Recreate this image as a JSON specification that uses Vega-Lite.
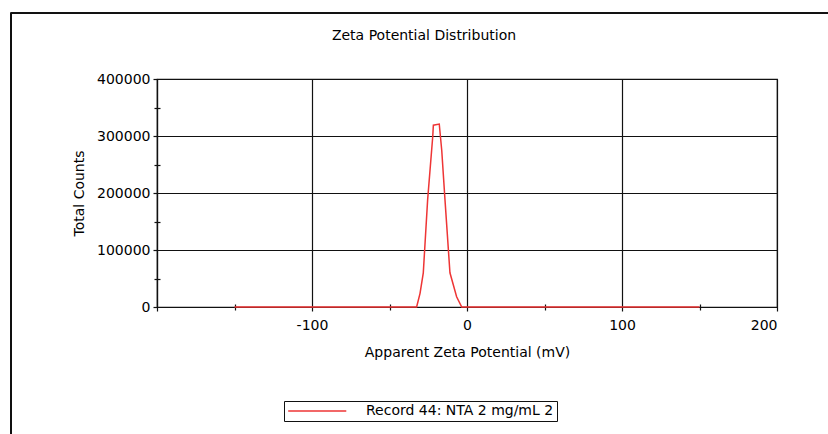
{
  "$schema": "https://vega.github.io/schema/vega-lite/v6.json",
  "width": 620,
  "height": 228,
  "autosize": {"type": "none"},
  "padding": {"left": 157, "top": 79, "right": 51, "bottom": 127},
  "background": "white",
  "config": {
    "view": {"stroke": "#111", "strokeWidth": 1.2},
    "font": "DejaVu Sans",
    "axis": {"labelFont": "DejaVu Sans", "titleFont": "DejaVu Sans", "labelFontSize": 14, "titleFontSize": 14, "labelColor": "#000", "titleColor": "#000", "titleFontWeight": "normal", "domainColor": "#111", "tickColor": "#111", "gridColor": "#111", "gridOpacity": 1, "domainWidth": 1.2, "tickWidth": 1.2, "gridWidth": 1.2}
  },
  "title": {"text": "Zeta Potential Distribution", "font": "DejaVu Sans", "fontSize": 14, "fontWeight": "normal", "color": "#000", "anchor": "middle", "frame": "group", "dx": -43, "offset": -30},
  "data": {"values": [
    {"mV": -150, "counts": 0, "series": "Record 44: NTA 2 mg/mL 2"},
    {"mV": -32.5, "counts": 0, "series": "Record 44: NTA 2 mg/mL 2"},
    {"mV": -30.3, "counts": 24000, "series": "Record 44: NTA 2 mg/mL 2"},
    {"mV": -28.2, "counts": 60000, "series": "Record 44: NTA 2 mg/mL 2"},
    {"mV": -25.4, "counts": 188000, "series": "Record 44: NTA 2 mg/mL 2"},
    {"mV": -22.1, "counts": 299000, "series": "Record 44: NTA 2 mg/mL 2"},
    {"mV": -21.7, "counts": 319000, "series": "Record 44: NTA 2 mg/mL 2"},
    {"mV": -17.9, "counts": 321000, "series": "Record 44: NTA 2 mg/mL 2"},
    {"mV": -16.3, "counts": 275000, "series": "Record 44: NTA 2 mg/mL 2"},
    {"mV": -14.2, "counts": 188000, "series": "Record 44: NTA 2 mg/mL 2"},
    {"mV": -11, "counts": 60000, "series": "Record 44: NTA 2 mg/mL 2"},
    {"mV": -6.7, "counts": 18000, "series": "Record 44: NTA 2 mg/mL 2"},
    {"mV": -3.4, "counts": 0, "series": "Record 44: NTA 2 mg/mL 2"},
    {"mV": 150, "counts": 0, "series": "Record 44: NTA 2 mg/mL 2"}
  ]},
  "layer": [
    {
      "mark": {"type": "line", "strokeOpacity": 0},
      "encoding": {
        "x": {"field": "mV", "type": "quantitative", "scale": {"domain": [-200, 200], "nice": false, "zero": false},
              "axis": {"orient": "bottom", "values": [-150, -50, 50, 150], "labels": false, "grid": false, "domain": false, "tickSize": 3, "title": null}},
        "y": {"field": "counts", "type": "quantitative", "scale": {"domain": [0, 400000], "nice": false},
              "axis": {"orient": "left", "values": [50000, 150000, 250000, 350000], "labels": false, "grid": false, "domain": false, "tickSize": 3, "title": null}}
      }
    },
    {
      "mark": {"type": "line", "strokeOpacity": 0},
      "encoding": {
        "x": {"field": "mV", "type": "quantitative",
              "axis": {"orient": "bottom", "values": [-150, -50, 50, 150], "labels": false, "grid": false, "domain": false, "tickSize": -3, "title": null}},
        "y": {"field": "counts", "type": "quantitative",
              "axis": {"orient": "left", "values": [50000, 150000, 250000, 350000], "labels": false, "grid": false, "domain": false, "tickSize": -3, "title": null}}
      }
    },
    {
      "mark": {"type": "rule", "clip": false, "color": "#111", "strokeWidth": 1.2},
      "encoding": {
        "x": {"datum": -294.4, "type": "quantitative", "axis": null},
        "y": {"datum": 515300, "type": "quantitative", "axis": null},
        "y2": {"datum": -300000}
      }
    },
    {
      "mark": {"type": "rule", "clip": false, "color": "#111", "strokeWidth": 1.2},
      "encoding": {
        "x": {"datum": -294.4, "type": "quantitative", "axis": null},
        "x2": {"datum": 300},
        "y": {"datum": 515300, "type": "quantitative", "axis": null}
      }
    },
    {
      "mark": {"type": "line", "strokeWidth": 1.5},
      "encoding": {
        "x": {"field": "mV", "type": "quantitative",
              "axis": {"orient": "bottom", "values": [-200, -100, 0, 100, 200], "labelExpr": "datum.value == -200 ? '' : '' + datum.value", "grid": true, "tickSize": 4, "labelPadding": 7, "title": "Apparent Zeta Potential (mV)", "titlePadding": 13}},
        "y": {"field": "counts", "type": "quantitative",
              "axis": {"orient": "left", "values": [0, 100000, 200000, 300000, 400000], "format": "d", "grid": true, "tickSize": 4, "labelPadding": 3, "title": "Total Counts", "titlePadding": 10}},
        "color": {"field": "series", "type": "nominal", "scale": {"range": ["#ee3535"]},
                  "legend": {"title": null, "orient": "none", "legendX": 127, "legendY": 322, "symbolType": "M-1,0H9", "symbolSize": 135, "symbolStrokeWidth": 1.5, "symbolStrokeColor": "#ee3535", "labelFont": "DejaVu Sans", "labelFontSize": 14, "labelColor": "#000", "labelOffset": 65, "strokeColor": "#111", "padding": 3, "labelLimit": 400}}
      }
    }
  ],
  "resolve": {"axis": {"x": "independent", "y": "independent"}}
}
